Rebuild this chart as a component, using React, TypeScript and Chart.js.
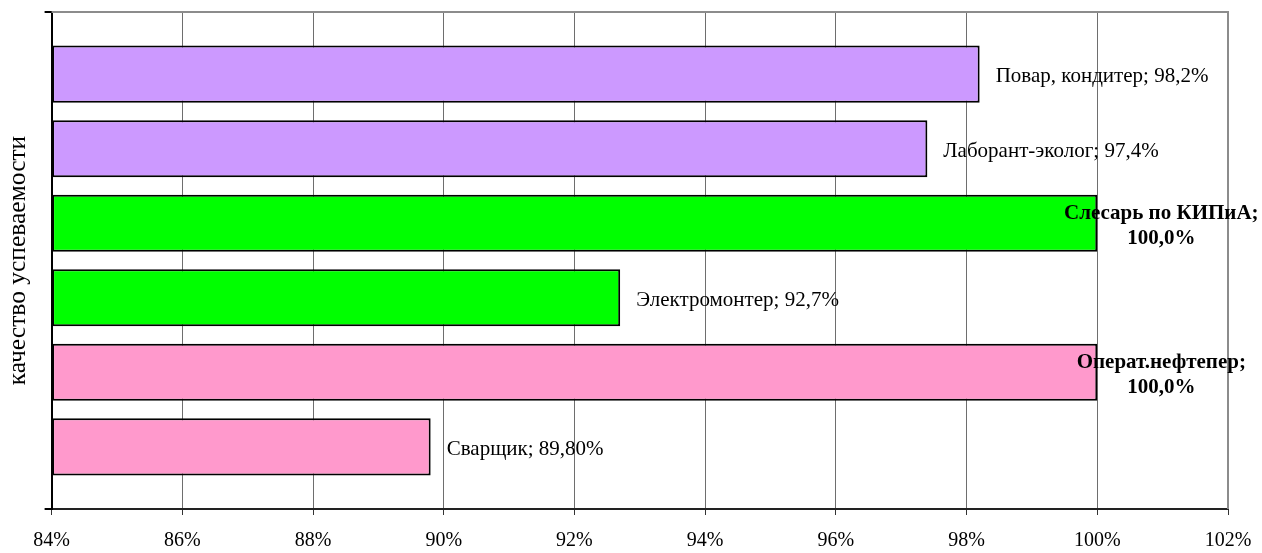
import React, { useEffect, useRef } from "react";
import { Chart, registerables } from "chart.js";

Chart.register(...registerables);

const professions = [
  "Повар, кондитер",
  "Лаборант-эколог",
  "Слесарь по КИПиА",
  "Электромонтер",
  "Операт.нефтепер",
  "Сварщик",
];
const values = [98.2, 97.4, 100.0, 92.7, 100.0, 89.8];
const valueLabels = ["98,2%", "97,4%", "100,0%", "92,7%", "100,0%", "89,80%"];
const barColors = ["#CC99FF", "#CC99FF", "#00FF00", "#00FF00", "#FF99CC", "#FF99CC"];
const category = ["качество успеваемости"];
const X_MIN = 84;
const X_MAX = 102;
const X_STEP = 2;

const FONT = "'Liberation Serif', 'Times New Roman', serif";

const plotBorder = {
  id: "plotBorder",
  beforeDatasetsDraw(chart: any) {
    const { ctx, chartArea } = chart;
    ctx.save();
    ctx.strokeStyle = "#8c8c8c";
    ctx.lineWidth = 2;
    ctx.beginPath();
    ctx.moveTo(chartArea.left, chartArea.top);
    ctx.lineTo(chartArea.right, chartArea.top);
    ctx.lineTo(chartArea.right, chartArea.bottom);
    ctx.stroke();
    ctx.restore();
  },
};

const barLabels = {
  id: "barLabels",
  afterDatasetsDraw(chart: any) {
    const { ctx } = chart;
    ctx.save();
    ctx.fillStyle = "#000";
    chart.data.datasets.forEach((ds: any, i: number) => {
      const meta = chart.getDatasetMeta(i);
      const el = meta.data[0];
      if (!el) return;
      const v = values[i];
      const name = professions[i];
      const lbl = valueLabels[i];
      const yc = el.y + 2.5;
      if (v >= 100) {
        ctx.font = `bold 21px ${FONT}`;
        ctx.textAlign = "center";
        ctx.textBaseline = "middle";
        const cx = el.x + 64;
        ctx.fillText(name + ";", cx, yc - 12.5);
        ctx.fillText(lbl, cx, yc + 12.5);
      } else {
        ctx.font = `21px ${FONT}`;
        ctx.textAlign = "left";
        ctx.textBaseline = "middle";
        ctx.fillText(`${name}; ${lbl}`, el.x + 16, yc);
      }
    });
    ctx.restore();
  },
};

export default function App() {
  const ref = useRef<HTMLCanvasElement | null>(null);

  useEffect(() => {
    if (!ref.current) return;
    const datasets = professions.map((p, i) => ({
      label: p,
      data: [values[i]],
      backgroundColor: barColors[i],
      borderColor: "#000",
      borderWidth: 2,
      borderSkipped: false as any,
      base: X_MIN,
      categoryPercentage: 0.9,
      barPercentage: 0.765,
    }));
    const chart = new Chart(ref.current, {
      type: "bar",
      data: { labels: category, datasets },
      options: {
        indexAxis: "y",
        animation: false,
        responsive: false,
        maintainAspectRatio: false,
        devicePixelRatio: 1,
        layout: { padding: { top: 12, right: 34, left: 0, bottom: -14 } },
        plugins: {
          legend: { display: false },
          tooltip: { enabled: false },
        },
        scales: {
          x: {
            type: "linear",
            min: X_MIN,
            max: X_MAX,
            afterFit: (scale: any) => {
              scale.paddingRight = 0;
              scale.paddingLeft = 0;
            },
            ticks: {
              stepSize: X_STEP,
              color: "#000",
              padding: 14,
              font: { family: FONT, size: 20 },
              callback: (v: any) => `${v}%`,
            },
            grid: {
              color: "#6e6e6e",
              lineWidth: 1,
              drawTicks: true,
              tickLength: 6,
              tickColor: "#333",
            },
            border: { color: "#222", width: 2 },
          },
          y: {
            type: "category",
            offset: true,
            ticks: { display: false },
            grid: {
              offset: true,
              drawOnChartArea: false,
              drawTicks: true,
              tickLength: 7,
              tickColor: "#000",
              lineWidth: 2,
            },
            border: { color: "#000", width: 2 },
            title: {
              display: true,
              text: category[0],
              color: "#000",
              font: { family: FONT, size: 25.5 },
              padding: { top: 3, bottom: 11 },
            },
          },
        },
      },
      plugins: [plotBorder, barLabels],
    });
    return () => chart.destroy();
  }, []);

  return (
    <div style={{ position: "absolute", left: 0, top: 0, width: 1262, height: 553, background: "#fff" }}>
      <canvas ref={ref} width={1262} height={553} style={{ display: "block" }} />
    </div>
  );
}
